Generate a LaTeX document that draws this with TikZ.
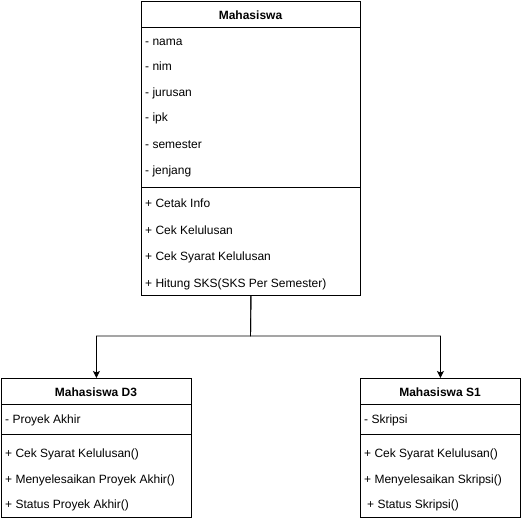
\documentclass[tikz,border=0pt]{standalone}
\usepackage{fontspec}
\setmainfont{Liberation Sans}
\usetikzlibrary{arrows.meta}
\begin{document}
\begin{tikzpicture}[x=1pt,y=-1pt,
  classbox/.style={draw=black, line width=0.9pt, fill=white, anchor=north west, inner sep=0pt},
  sepline/.style={draw=black, line width=0.9pt},
  member/.style={anchor=west, inner sep=0pt, font=\fontsize{12}{14}\selectfont, text height=8.6pt, text depth=0pt},
  title/.style={anchor=center, inner sep=0pt, font=\fontsize{12}{14}\selectfont\bfseries, text height=8.6pt, text depth=0pt},
  arr/.style={draw=black, line width=0.9pt, -{Stealth[length=7pt,width=7pt,inset=1.5pt]}}]
\useasboundingbox (0,0) rectangle (521,520);
% Mahasiswa
\node[classbox, minimum width=219pt, minimum height=294pt] (mhs) at (141,1) {};
\draw[sepline] (141,27) -- (360,27);
\draw[sepline] (141,187) -- (360,187);
\node[title] (mhsT) at (250.5,15) {Mahasiswa};
\node[member] (a1) at (145,41) {- nama};
\node[member] (a2) at (145,66) {- nim};
\node[member] (a3) at (145,92) {- jurusan};
\node[member] (a4) at (145,117) {- ipk};
\node[member] (a5) at (145,144) {- semester};
\node[member] (a6) at (145,170) {- jenjang};
\node[member] (m1) at (145,203) {+ Cetak Info};
\node[member] (m2) at (145,230) {+ Cek Kelulusan};
\node[member] (m3) at (145,256) {+ Cek Syarat Kelulusan};
\node[member] (m4) at (145,283) {+ Hitung SKS(SKS Per Semester)};
% Mahasiswa D3
\node[classbox, minimum width=190pt, minimum height=139pt] (d3) at (1,378) {};
\draw[sepline] (1,404) -- (191,404);
\draw[sepline] (1,434) -- (191,434);
\node[title] (d3T) at (96,392) {Mahasiswa D3};
\node[member] (d3a) at (5,419) {- Proyek Akhir};
\node[member] (d3m1) at (5,453) {+ Cek Syarat Kelulusan()};
\node[member] (d3m2) at (5,479) {+ Menyelesaikan Proyek Akhir()};
\node[member] (d3m3) at (5,504) {+ Status Proyek Akhir()};
% Mahasiswa S1
\node[classbox, minimum width=160pt, minimum height=139pt] (s1) at (360,378) {};
\draw[sepline] (360,404) -- (520,404);
\draw[sepline] (360,434) -- (520,434);
\node[title] (s1T) at (440,392) {Mahasiswa S1};
\node[member] (s1a) at (364,419) {- Skripsi};
\node[member] (s1m1) at (364,453) {+ Cek Syarat Kelulusan()};
\node[member] (s1m2) at (364,479) {+ Menyelesaikan Skripsi()};
\node[member] (s1m3) at (367,504) {+ Status Skripsi()};
% connectors
\coordinate (split) at (250.5,336);
\draw[arr] (mhs.south) -- (split) -| (d3.north);
\draw[arr] (mhs.south) -- (split) -| (s1.north);
\end{tikzpicture}
\end{document}
